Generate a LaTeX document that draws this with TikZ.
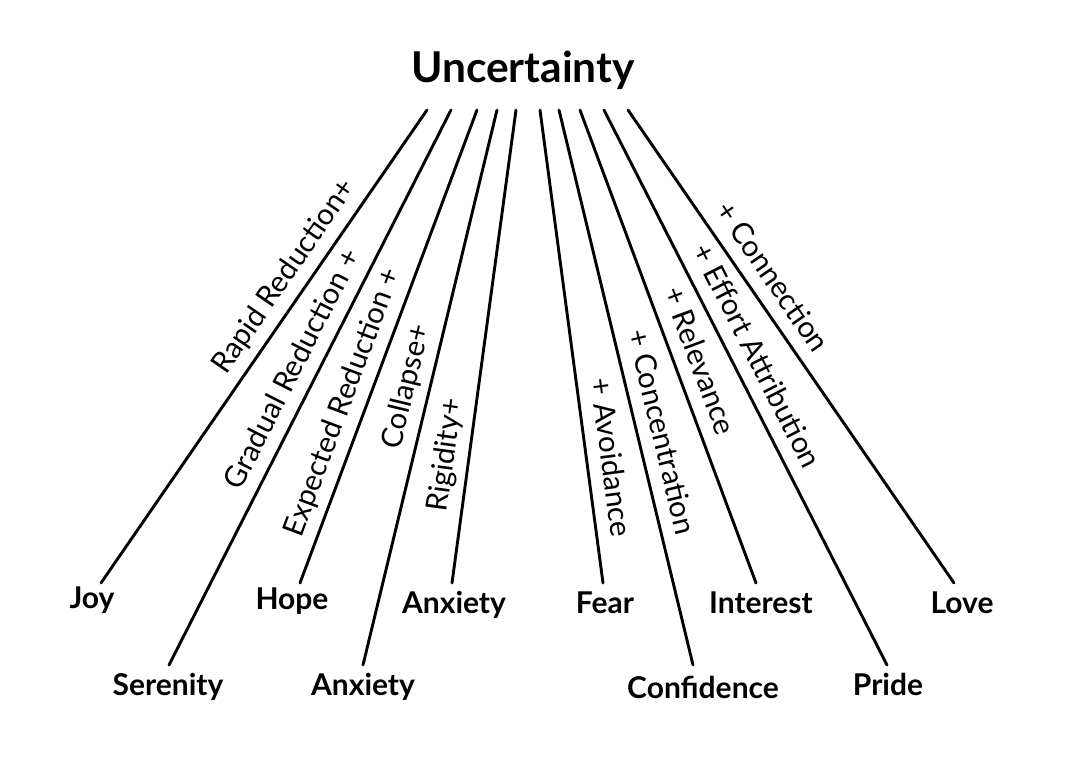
\documentclass[tikz,border=0pt]{standalone}
\usepackage{fontspec}
\setmainfont{Lato}
\begin{document}
\begin{tikzpicture}[x=1pt,y=-1pt,
  emo/.style={font=\fontsize{30}{36}\selectfont\bfseries, inner sep=0pt, anchor=base},
  lnk/.style={line width=2.9pt, line cap=round},
  lab/.style={font=\fontsize{29.5}{35}\selectfont, sloped, above=3.5pt, inner sep=3pt, text height=22pt, text depth=6.5pt}]
\useasboundingbox (0,0) rectangle (1080,776);
\node[font=\fontsize{42.5}{50}\selectfont\bfseries, anchor=base] (unc) at (523,83) {Uncertainty};
% top ends
\coordinate (t1) at (427,110);
\coordinate (t2) at (451,110);
\coordinate (t3) at (477,110);
\coordinate (t4) at (497,110);
\coordinate (t5) at (516,110);
\coordinate (t6) at (540,110);
\coordinate (t7) at (559,110);
\coordinate (t8) at (580,110);
\coordinate (t9) at (604,110);
\coordinate (t10) at (628,110);
% bottom ends
\coordinate (b1) at (101,583);
\coordinate (b2) at (169,665);
\coordinate (b3) at (300,583);
\coordinate (b4) at (363,665);
\coordinate (b5) at (452,583);
\coordinate (b6) at (603,583);
\coordinate (b7) at (693,665);
\coordinate (b8) at (756,583);
\coordinate (b9) at (887,665);
\coordinate (b10) at (954,583);
% emotion labels
\node[emo] (joy) at (92,608) {Joy};
\node[emo] (serenity) at (168,695) {Serenity};
\node[emo] (hope) at (292,609) {Hope};
\node[emo] (anxb) at (363,695) {Anxiety};
\node[emo] (anxa) at (454,613) {Anxiety};
\node[emo] (fear) at (605,613) {Fear};
\node[emo] (conf) at (703,698) {Confidence};
\node[emo] (interest) at (761,613) {Interest};
\node[emo] (pride) at (888,695) {Pride};
\node[emo] (love) at (962,613) {Love};
% connectors
\draw[lnk] (t1) -- (b1) node[lab,pos=0.38] {Rapid Reduction+};
\draw[lnk] (t2) -- (b2) node[lab,pos=0.487] {Gradual Reduction +};
\draw[lnk] (t3) -- (b3) node[lab,pos=0.635] {Expected Reduction +};
\draw[lnk] (t4) -- (b4) node[lab,pos=0.508] {Collapse+};
\draw[lnk] (t5) -- (b5) node[lab,pos=0.736] {Rigidity+};
\draw[lnk] (t6) -- (b6) node[lab,pos=0.741] {+ Avoidance};
\draw[lnk] (t7) -- (b7) node[lab,pos=0.59] {+ Concentration};
\draw[lnk] (t8) -- (b8) node[lab,pos=0.549] {+ Relevance};
\draw[lnk] (t9) -- (b9) node[lab,pos=0.463] {+ Effort Attribution};
\draw[lnk] (t10) -- (b10) node[lab,pos=0.382] {+ Connection};
\end{tikzpicture}
\end{document}
